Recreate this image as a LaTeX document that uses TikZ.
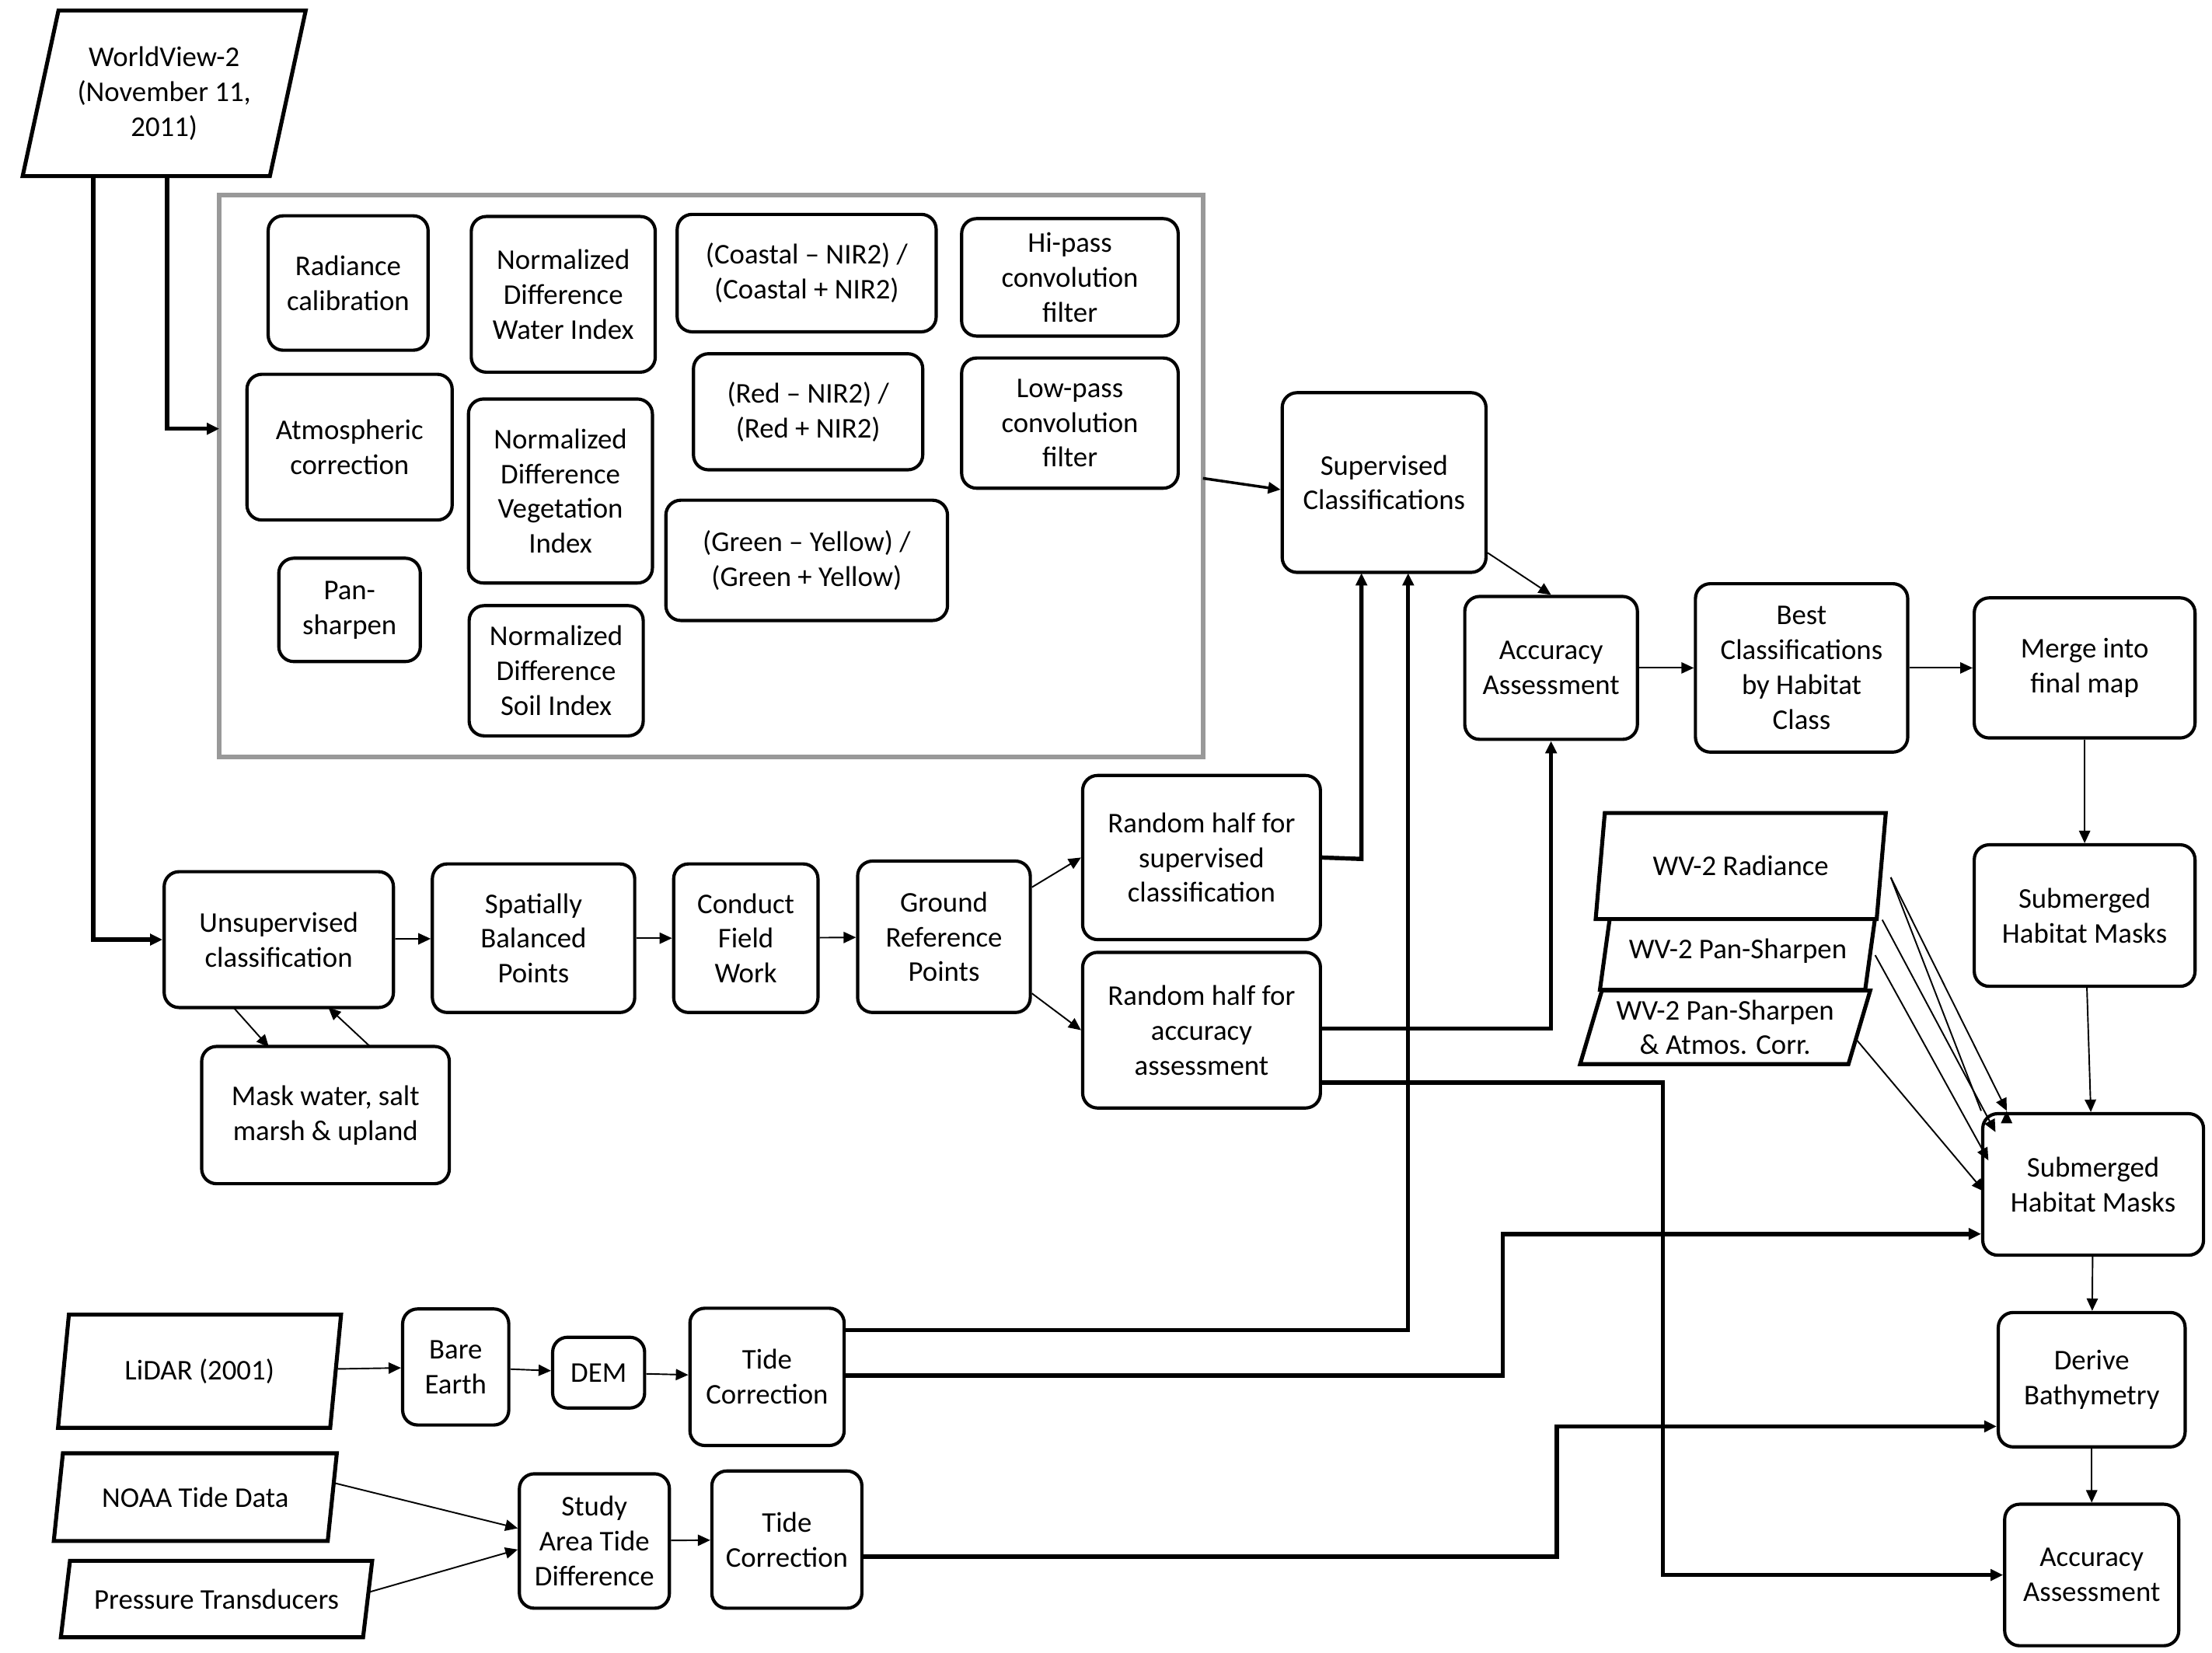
\documentclass[tikz,border=0pt]{standalone}
\usepackage{fontspec}
\setmainfont{Carlito}
\usetikzlibrary{arrows.meta}
\usetikzlibrary{shapes.geometric}
\begin{document}
\begin{tikzpicture}[
    x=0.02cm, y=-0.02cm,
    >={Triangle[length=5pt,width=4.5pt]},
    every node/.style={font=\fontsize{11.5}{14}\selectfont},
    box/.style={rectangle, draw, rounded corners=6pt, line width=1.3pt, align=center, inner sep=1pt},
    data/.style={trapezium, trapezium left angle=70, trapezium right angle=110, trapezium stretches body, draw, line width=1.6pt, align=center, inner sep=1pt},
    thin/.style={->, line width=0.6pt},
    heavy/.style={->, line width=1.7pt}
]
\useasboundingbox (0,0) rectangle (1563,1168);

% Inputs
\node[data, minimum width=11cm*0+200*0.02cm, minimum height=117*0.02cm] (wv) at (116,66) {WorldView-2\\(November 11,\\2011)};
\node[data, minimum width=200*0.02cm, minimum height=80*0.02cm] (lidar) at (141,969) {LiDAR (2001)};
\node[data, minimum width=200*0.02cm, minimum height=62*0.02cm] (noaa) at (138,1058) {NOAA Tide Data};
\node[data, minimum width=220*0.02cm, minimum height=54*0.02cm] (press) at (153,1130) {Pressure Transducers};

% Preprocessing box
\draw[line width=2pt, draw=black!40] (155,138) rectangle (850,535);
\coordinate (boxin) at (155,303);
\coordinate (boxout) at (850,338);
\node[box, minimum width=113*0.02cm, minimum height=95*0.02cm] (rad) at (246,200) {Radiance\\calibration};
\node[box, minimum width=145*0.02cm, minimum height=103*0.02cm] (atm) at (247,316) {Atmospheric\\correction};
\node[box, minimum width=100*0.02cm, minimum height=73*0.02cm] (pan) at (247,431) {Pan-\\sharpen};
\node[box, minimum width=130*0.02cm, minimum height=110*0.02cm] (ndwi) at (398,208) {Normalized\\Difference\\Water Index};
\node[box, minimum width=130*0.02cm, minimum height=130*0.02cm] (ndvi) at (396,347) {Normalized\\Difference\\Vegetation\\Index};
\node[box, minimum width=123*0.02cm, minimum height=92*0.02cm] (ndsi) at (393,474) {Normalized\\Difference\\Soil Index};
\node[box, minimum width=183*0.02cm, minimum height=83*0.02cm] (coast) at (570,193) {(Coastal -- NIR2) /\\(Coastal + NIR2)};
\node[box, minimum width=162*0.02cm, minimum height=82*0.02cm] (red) at (571,291) {(Red -- NIR2) /\\(Red + NIR2)};
\node[box, minimum width=199*0.02cm, minimum height=85*0.02cm] (green) at (570,396) {(Green -- Yellow) /\\(Green + Yellow)};
\node[box, minimum width=153*0.02cm, minimum height=83*0.02cm] (hip) at (756,196) {Hi-pass\\convolution\\filter};
\node[box, minimum width=153*0.02cm, minimum height=92*0.02cm] (lowp) at (756,299) {Low-pass\\convolution\\filter};

% Classification chain
\node[box, minimum width=144*0.02cm, minimum height=127*0.02cm] (sup) at (978,341) {Supervised\\Classifications};
\node[box, minimum width=122*0.02cm, minimum height=101*0.02cm] (acc) at (1096,472) {Accuracy\\Assessment};
\node[box, minimum width=150*0.02cm, minimum height=119*0.02cm] (best) at (1273,472) {Best\\Classifications\\by Habitat\\Class};
\node[box, minimum width=156*0.02cm, minimum height=99*0.02cm] (merge) at (1473,472) {Merge into\\final map};
\node[box, minimum width=156*0.02cm, minimum height=100*0.02cm] (subA) at (1473,647) {Submerged\\Habitat Masks};
\node[box, minimum width=156*0.02cm, minimum height=100*0.02cm] (subB) at (1479,837) {Submerged\\Habitat Masks};
\node[box, minimum width=132*0.02cm, minimum height=95*0.02cm] (bathy) at (1478,975) {Derive\\Bathymetry};
\node[box, minimum width=123*0.02cm, minimum height=100*0.02cm] (acc2) at (1478,1113) {Accuracy\\Assessment};

% Image products
\node[data, fill=white, minimum width=205*0.02cm, minimum height=52*0.02cm] (wvpa) at (1219,726) {WV-2 Pan-Sharpen\\\& Atmos. Corr.};
\node[data, fill=white, minimum width=195*0.02cm, minimum height=55*0.02cm] (wvps) at (1228,672) {WV-2 Pan-Sharpen};
\node[data, fill=white, minimum width=205*0.02cm, minimum height=75*0.02cm] (wvr) at (1230,612) {WV-2 Radiance};

% Field reference chain
\node[box, minimum width=162*0.02cm, minimum height=96*0.02cm] (unsup) at (197,664) {Unsupervised\\classification};
\node[box, minimum width=175*0.02cm, minimum height=97*0.02cm] (mask) at (230,788) {Mask water, salt\\marsh \& upland};
\node[box, minimum width=143*0.02cm, minimum height=105*0.02cm] (spat) at (377,663) {Spatially\\Balanced\\Points};
\node[box, minimum width=102*0.02cm, minimum height=105*0.02cm] (field) at (527,663) {Conduct\\Field\\Work};
\node[box, minimum width=122*0.02cm, minimum height=107*0.02cm] (grp) at (667,662) {Ground\\Reference\\Points};
\node[box, minimum width=168*0.02cm, minimum height=116*0.02cm] (rsup) at (849,606) {Random half for\\supervised\\classification};
\node[box, minimum width=168*0.02cm, minimum height=110*0.02cm] (racc) at (849,728) {Random half for\\accuracy\\assessment};

% Tide chain
\node[box, minimum width=75*0.02cm, minimum height=82*0.02cm] (bare) at (322,966) {Bare\\Earth};
\node[box, minimum width=65*0.02cm, minimum height=50*0.02cm] (dem) at (423,970) {DEM};
\node[box, minimum width=109*0.02cm, minimum height=97*0.02cm] (tideA) at (542,973) {Tide\\Correction};
\node[box, minimum width=106*0.02cm, minimum height=95*0.02cm] (study) at (420,1089) {Study\\Area Tide\\Difference};
\node[box, minimum width=106*0.02cm, minimum height=97*0.02cm] (tideB) at (556,1088) {Tide\\Correction};

% Edges
\draw[heavy] (66,125) |- (unsup.west);
\draw[heavy] (118,125) |- (boxin);
\draw[->, line width=1.1pt] (boxout) -- (sup.west |- 0,346);
\draw[thin] (sup.south east) ++(0,-15) -- (acc.north);
\draw[thin] (acc) -- (best);
\draw[thin] (best) -- (merge);
\draw[thin] (merge) -- (subA);
\draw[thin] (subA) -- (subB);
\draw[thin] (subB) -- (bathy);
\draw[thin] (bathy) -- (acc2);
\draw[thin] (unsup) -- (spat);
\draw[thin] (spat) -- (field);
\draw[thin] (field) -- (grp);
\draw[thin] (grp.east) ++(0,-35) -- (rsup.west);
\draw[thin] (grp.east) ++(0,40) -- (racc.west);
\draw[thin] (165,712) -- (190,740);
\draw[thin] (262,740) -- (232,712);
\draw[heavy] (rsup.east) -- (962,607) -- (962,405);
\draw[heavy] (racc.east |- 0,727) -| (acc.south);
\draw[heavy] (racc.east |- 0,765) -- (1175,765) |- (acc2.west);
\draw[heavy] (tideA.east |- 0,940) -- (995,940) -- (995,405);
\draw[heavy] (tideA.east |- 0,972) -- (1062,972) |- (subB.west |- 0,872);
\draw[heavy] (tideB.east |- 0,1100) -- (1100,1100) |- (bathy.west |- 0,1008);
\draw[thin] (lidar) -- (bare);
\draw[thin] (bare) -- (dem);
\draw[thin] (dem) -- (tideA);
\draw[thin] (noaa.east) ++(0,-10) -- (study.west |- 0,1080);
\draw[thin] (press.east) ++(0,-5) -- (study.west |- 0,1095);
\draw[thin] (study) -- (tideB);
\draw[thin] (1336,620) -- (subB.north west |- 0,785) ++(18,0);
\draw[thin] (1336,620) -- (1418,785);
\draw[thin] (1330,650) -- (1410,800);
\draw[thin] (1325,675) -- (1405,820);
\draw[thin] (1312,735) -- (1402,842);
\end{tikzpicture}
\end{document}
